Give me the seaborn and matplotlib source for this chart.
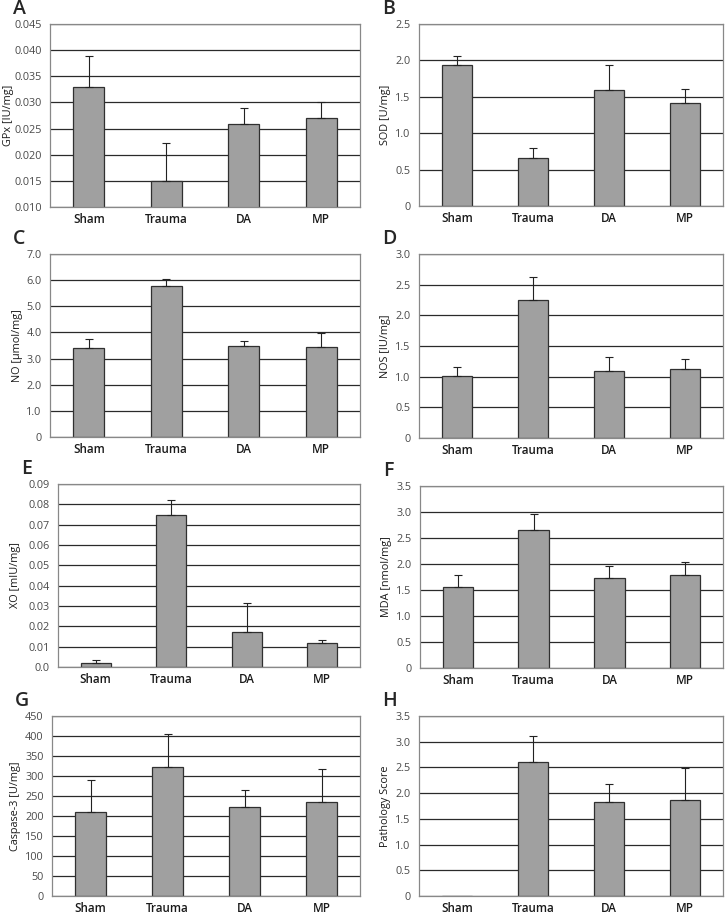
import matplotlib
matplotlib.use("Agg")
import matplotlib.pyplot as plt
import seaborn as sns
import numpy as np

groups = ["Sham", "Trauma", "DA", "MP"]

gpx_mean = [0.033, 0.015, 0.0259, 0.027]
gpx_top = [0.0389, 0.0222, 0.029, 0.030]
sod_mean = [1.94, 0.66, 1.60, 1.42]
sod_top = [2.06, 0.80, 1.93, 1.61]
no_mean = [3.42, 5.77, 3.47, 3.45]
no_top = [3.75, 6.05, 3.68, 3.98]
nos_mean = [1.01, 2.25, 1.10, 1.12]
nos_top = [1.16, 2.62, 1.32, 1.29]
xo_mean = [0.002, 0.075, 0.0172, 0.012]
xo_top = [0.0035, 0.0822, 0.0316, 0.0135]
mda_mean = [1.56, 2.66, 1.73, 1.78]
mda_top = [1.79, 2.97, 1.96, 2.04]
casp_mean = [210, 322, 223, 234]
casp_top = [290, 405, 264, 317]
path_mean = [0, 2.61, 1.83, 1.86]
path_top = [0, 3.12, 2.18, 2.49]

gpx_ticks = [0.010, 0.015, 0.020, 0.025, 0.030, 0.035, 0.040, 0.045]
gpx_labels = ["0.010", "0.015", "0.020", "0.025", "0.030", "0.035", "0.040", "0.045"]
half_ticks_25 = [0, 0.5, 1.0, 1.5, 2.0, 2.5]
half_labels_25 = ["0", "0.5", "1.0", "1.5", "2.0", "2.5"]
no_ticks = [0, 1, 2, 3, 4, 5, 6, 7]
no_labels = ["0", "1.0", "2.0", "3.0", "4.0", "5.0", "6.0", "7.0"]
half_ticks_30 = [0, 0.5, 1.0, 1.5, 2.0, 2.5, 3.0]
half_labels_30 = ["0", "0.5", "1.0", "1.5", "2.0", "2.5", "3.0"]
xo_ticks = [0, 0.01, 0.02, 0.03, 0.04, 0.05, 0.06, 0.07, 0.08, 0.09]
xo_labels = ["0.0", "0.01", "0.02", "0.03", "0.04", "0.05", "0.06", "0.07", "0.08", "0.09"]
half_ticks_35 = [0, 0.5, 1.0, 1.5, 2.0, 2.5, 3.0, 3.5]
half_labels_35 = ["0", "0.5", "1.0", "1.5", "2.0", "2.5", "3.0", "3.5"]
casp_ticks = [0, 50, 100, 150, 200, 250, 300, 350, 400, 450]
casp_labels = ["0", "50", "100", "150", "200", "250", "300", "350", "400", "450"]

sns.set_style("white")
plt.rcParams["font.family"] = ["Open Sans", "DejaVu Sans"]

W, H = 725, 916
fig = plt.figure(figsize=(W / 100, H / 100), dpi=100)

# letter, means, error tops, y label, ticks, tick labels, axes box (px), y label right edge x (px)
panels = [
    ("A", gpx_mean, gpx_top, "GPx [IU/mg]", gpx_ticks, gpx_labels, (50, 24, 360, 207), 14),
    ("B", sod_mean, sod_top, "SOD [U/mg]", half_ticks_25, half_labels_25, (419, 24, 723, 206), 391),
    ("C", no_mean, no_top, "NO [µmol/mg]", no_ticks, no_labels, (50, 254, 360, 437), 23),
    ("D", nos_mean, nos_top, "NOS [IU/mg]", half_ticks_30, half_labels_30, (419, 254, 723, 438), 391),
    ("E", xo_mean, xo_top, "XO [mIU/mg]", xo_ticks, xo_labels, (58, 484, 360, 667), 21),
    ("F", mda_mean, mda_top, "MDA [nmol/mg]", half_ticks_35, half_labels_35, (420, 486, 723, 668), 392),
    ("G", casp_mean, casp_top, "Caspase-3 [U/mg]", casp_ticks, casp_labels, (52, 716, 360, 896), 21),
    ("H", path_mean, path_top, "Pathology Score", half_ticks_35, half_labels_35, (419, 716, 723, 896), 391),
]

for letter, mean, top, ylabel, ticks, labels, box, lab_x in panels:
    l, t, r, b = box
    ax = fig.add_axes([l / W, 1 - b / H, (r - l) / W, (b - t) / H])
    for y in ticks:
        ax.axhline(y, color="#2a2a2a", lw=0.9, zorder=0)
    sns.barplot(x=groups, y=mean, color="#a0a0a0", edgecolor="#303030",
                linewidth=0.9, width=0.4, saturation=1, ax=ax, zorder=2)
    m = np.array(mean)
    up = np.array(top) - m
    show = up > 0
    x = np.arange(len(groups))
    ax.errorbar(x[show], m[show], yerr=[np.zeros(show.sum()), up[show]],
                fmt="none", ecolor="#222222", elinewidth=0.8, capsize=3,
                capthick=0.8, zorder=3)
    ax.set_xlim(-0.5, 3.5)
    ax.set_ylim(ticks[0], ticks[-1])
    ax.set_yticks(ticks)
    ax.set_yticklabels(labels, fontsize=7.8, color="#4a4a4a")
    ax.tick_params(axis="y", length=4, width=0.8, color="#888888", pad=2)
    ax.tick_params(axis="x", length=0, labelsize=8.4, pad=4)
    for lab in ax.get_xticklabels():
        lab.set_fontweight("semibold")
        lab.set_color("#1a1a1a")
    ax.set_ylabel(ylabel, fontsize=7.8, color="#1a1a1a")
    ax.yaxis.set_label_coords((lab_x - l) / (r - l), 0.5)
    for s in ax.spines.values():
        s.set_color("#888888")
        s.set_linewidth(0.9)
    fig.text((l - 37) / W, 1 - (t - 15) / H, letter, fontsize=14,
             fontweight="semibold", va="center", ha="left")

fig.savefig("out.png", dpi=100, facecolor="white")
